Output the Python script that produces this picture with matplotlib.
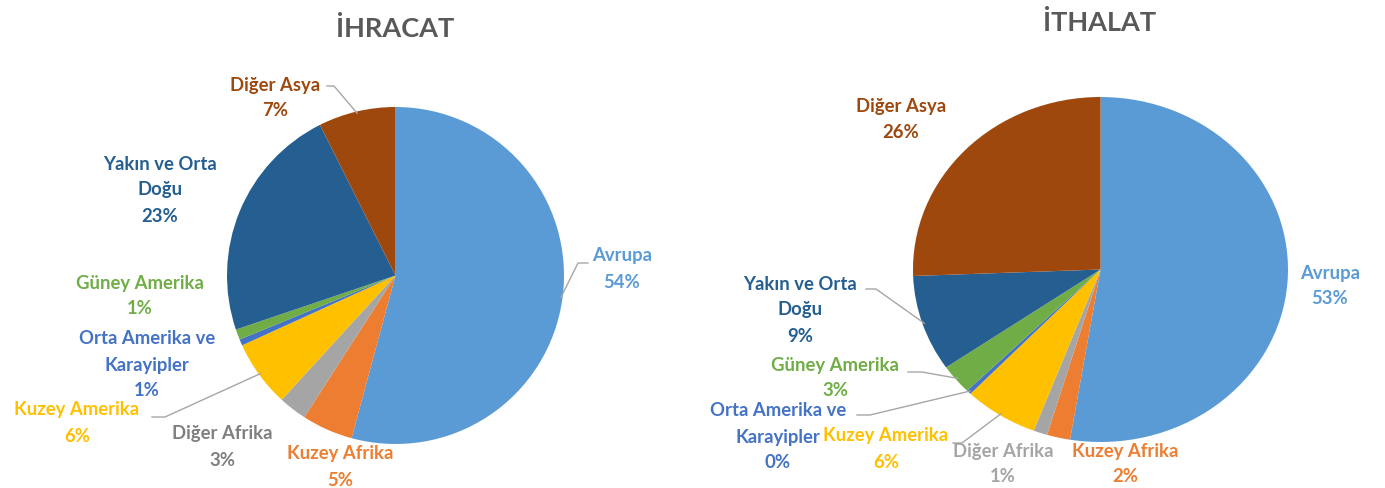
import numpy as np
import matplotlib
matplotlib.use("Agg")
import matplotlib.pyplot as plt
from matplotlib.lines import Line2D

W, H = 1385, 488

regions = ["Avrupa", "Kuzey Afrika", "Diğer Afrika", "Kuzey Amerika",
           "Orta Amerika ve\nKarayipler", "Güney Amerika",
           "Yakın ve Orta\nDoğu", "Diğer Asya"]
ihracat = [54.2, 4.9, 2.7, 6.4, 0.6, 1.0, 22.8, 7.4]
ithalat = [52.6, 2.0, 1.2, 6.4, 0.4, 2.8, 9.0, 25.6]

slice_colors = ["#5B9BD5", "#ED7D31", "#A5A5A5", "#FFC000",
                "#4472C4", "#70AD47", "#255E91", "#9E480E"]

plt.rcParams["font.family"] = ["Lato", "DejaVu Sans"]

fig = plt.figure(figsize=(W / 100, H / 100), dpi=100)
LINE_GAP = 26  # px between label lines


def put_label(lines, cx, cy, color):
    # one text per line, block centred on (cx, cy) in pixels
    n = len(lines)
    for k, s in enumerate(lines):
        y = cy + (k - (n - 1) / 2) * LINE_GAP
        fig.text(cx / W, 1 - y / H, s, ha="center", va="center",
                 fontsize=13.3, fontweight="bold", color=color)


def draw_pie(values, box, title, title_xy, label_xy, leaders, afrika_color):
    # box = (left, top, right, bottom) in pixels
    l, t, r, b = box
    ax = fig.add_axes([l / W, 1 - b / H, (r - l) / W, (b - t) / H])
    ax.pie(values, colors=slice_colors, startangle=90, counterclock=False,
           radius=1, wedgeprops=dict(linewidth=0))
    ax.set_aspect("auto")
    ax.set_xlim(-1, 1)
    ax.set_ylim(-1, 1)
    ax.axis("off")

    tx, ty = title_xy
    fig.text(tx / W, 1 - ty / H, title, ha="center", va="baseline",
             fontsize=19.5, fontweight="bold", color="#595959")

    total = sum(values)
    for i, name in enumerate(regions):
        pct = round(values[i] / total * 100)
        col = afrika_color if i == 2 else slice_colors[i]
        put_label(name.split("\n") + [f"{pct}%"], *label_xy[i], col)

    # leader lines: stub start/end in pixels, other end at wedge middle
    cum = np.cumsum([0] + list(values)) / total
    for i, (x0, y0, x1, y1) in leaders.items():
        mid = (cum[i] + cum[i + 1]) / 2
        ang = np.deg2rad(90 - mid * 360)
        px, py = ax.transData.transform((0.99 * np.cos(ang), 0.99 * np.sin(ang)))
        xs = [x0, x1, px]
        ys = [H - y0, H - y1, py]
        fig.add_artist(Line2D(np.array(xs) / W, np.array(ys) / H,
                              transform=fig.transFigure, color="#A6A6A6", lw=1))


draw_pie(
    ihracat, (227, 107, 564, 444), "İHRACAT", (395, 37),
    [(622, 269), (340, 467), (222, 447), (77, 423),
     (147, 365), (140, 296), (160, 190), (275, 98)],
    {0: (588, 263, 578, 263), 3: (152, 417, 165, 417), 7: (327, 86, 334, 86)},
    "#7F7F7F",
)

draw_pie(
    ithalat, (913, 97, 1288, 442), "İTHALAT", (1100, 31),
    [(1330, 286), (1125, 464), (1003, 464), (886, 449),
     (778, 437), (835, 378), (800, 310), (901, 120)],
    {6: (866, 289, 876, 289), 5: (908, 372, 922, 372),
     4: (857, 415, 870, 415), 3: (953, 443, 962, 443)},
    "#A5A5A5",
)

fig.savefig("out.png", dpi=100)
